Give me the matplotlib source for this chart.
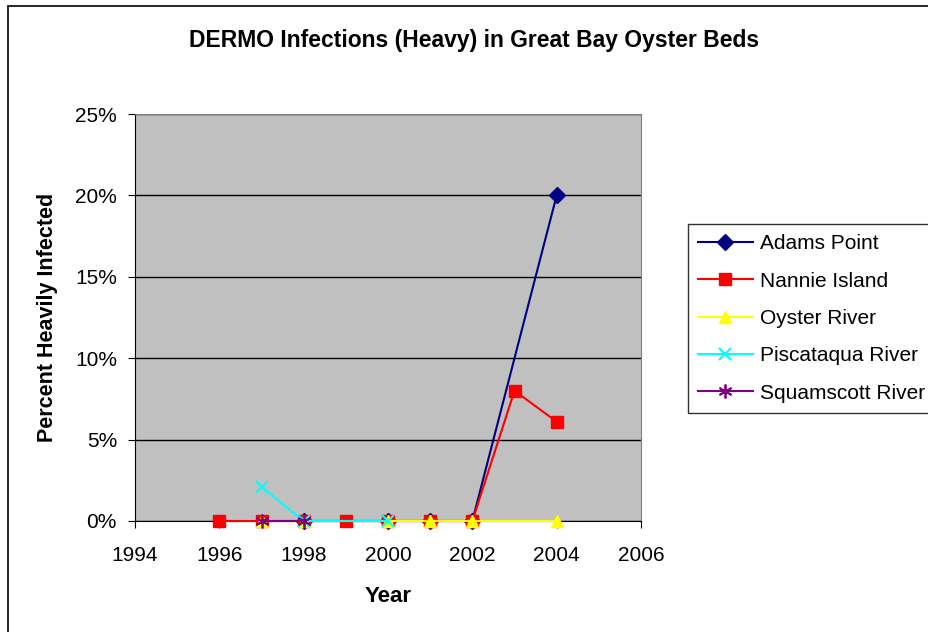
import matplotlib.pyplot as plt
from matplotlib.patches import Rectangle
from matplotlib.ticker import PercentFormatter

plt.rcParams['font.family'] = ['Liberation Sans', 'DejaVu Sans']

# данные (доли в процентах)
adams_years = [1998, 2000, 2001, 2002, 2004]
adams_vals = [0, 0, 0, 0, 20]

nannie_years = [1996, 1997, 1998, 1999, 2000, 2001, 2002, 2003, 2004]
nannie_vals = [0, 0, 0, 0, 0, 0, 0, 8, 6.1]

oyster_years = [1997, 1998, 2000, 2001, 2002, 2004]
oyster_vals = [0, 0, 0, 0, 0, 0]

pisc_years = [1997, 1998, 2000]
pisc_vals = [2.1, 0, 0]

squam_years = [1997, 1998]
squam_vals = [0, 0]

fig = plt.figure(figsize=(9.29, 6.32), dpi=100)
fig.patches.append(Rectangle((8 / 929, -0.1), 1.2, 1 - 6 / 632 + 0.1,
                             transform=fig.transFigure, fill=False,
                             edgecolor='black', linewidth=1.2))

ax = fig.add_axes([135 / 929, 1 - 521 / 632, (641 - 135) / 929, (521 - 114) / 632])
ax.set_facecolor('#C0C0C0')

ax.plot(adams_years, adams_vals, color='#000080', marker='D', markersize=8,
        linewidth=1.5, label='Adams Point', zorder=3, clip_on=False)
ax.plot(nannie_years, nannie_vals, color='#FF0000', marker='s', markersize=8,
        linewidth=1.5, label='Nannie Island', zorder=4, clip_on=False)
ax.plot(oyster_years, oyster_vals, color='#FFFF00', marker='^', markersize=9,
        linewidth=1.5, label='Oyster River', zorder=5, clip_on=False)
ax.plot(pisc_years, pisc_vals, color='#00FFFF', marker='x', markersize=9,
        markeredgewidth=1.5, linewidth=1.5, label='Piscataqua River', zorder=6,
        clip_on=False)
ax.plot(squam_years, squam_vals, color='#800080', marker=(6, 2, 0), markersize=10,
        markeredgewidth=1.3, linewidth=1.5, label='Squamscott River', zorder=7,
        clip_on=False)

ax.set_xlim(1994, 2006)
ax.set_ylim(0, 25)
ax.set_xticks(range(1994, 2007, 2))
ax.set_yticks(range(0, 26, 5))
ax.yaxis.set_major_formatter(PercentFormatter(decimals=0))
ax.grid(axis='y', color='black', linewidth=1)
ax.set_axisbelow(True)
ax.tick_params(labelsize=15, direction='out', length=5, color='black')
ax.tick_params(axis='x', pad=13)
ax.tick_params(axis='y', pad=8)

for side in ['top', 'right']:
    ax.spines[side].set_color('#808080')
ax.spines['left'].set_color('black')
ax.spines['bottom'].set_color('black')

ax.set_xlabel('Year', fontsize=16, fontweight='bold', labelpad=15)
ax.set_ylabel('Percent Heavily Infected', fontsize=15.5, fontweight='bold', labelpad=12)
fig.text(474 / 929, 1 - 40 / 632, 'DERMO Infections (Heavy) in Great Bay Oyster Beds',
         ha='center', va='center', fontsize=16.5, fontweight='bold')

leg = ax.legend(loc='upper left', bbox_to_anchor=(688 / 929, 1 - 224 / 632),
                bbox_transform=fig.transFigure, fontsize=15, frameon=True,
                fancybox=False, edgecolor='black', handlelength=2.6,
                handletextpad=0.35, labelspacing=0.88, borderpad=0.5,
                borderaxespad=0)
leg.get_frame().set_linewidth(1)

plt.savefig('out.png', dpi=100)
